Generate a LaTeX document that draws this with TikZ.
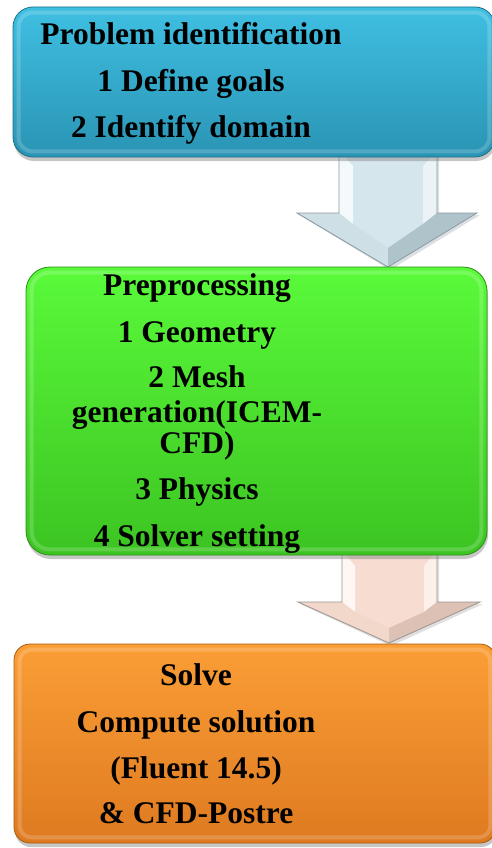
\documentclass[tikz,border=0pt]{standalone}
\usepackage{fontspec}
\newfontfamily\boxfont{Liberation Serif}
\usetikzlibrary{shadows}
\definecolor{bluetop}{HTML}{3FBFE2}
\definecolor{bluebot}{HTML}{2A94B4}
\definecolor{blueedge}{HTML}{1E6F88}
\definecolor{greentop}{HTML}{5AFA3A}
\definecolor{greenbot}{HTML}{3CC422}
\definecolor{greenedge}{HTML}{2C8E18}
\definecolor{orangetop}{HTML}{FB9E36}
\definecolor{orangebot}{HTML}{DE7A20}
\definecolor{orangeedge}{HTML}{A85A12}
\definecolor{arAbase}{HTML}{D6E6ED}
\definecolor{arAlight}{HTML}{F4F9FB}
\definecolor{arAdark}{HTML}{AFC3CB}
\definecolor{arAedge}{HTML}{8A9AA2}
\definecolor{arBbase}{HTML}{F7DDD1}
\definecolor{arBlight}{HTML}{FFF7F3}
\definecolor{arBdark}{HTML}{DDC1B5}
\definecolor{arBedge}{HTML}{9A9490}
\begin{document}
\begin{tikzpicture}[x=1pt,y=-1pt,
  box/.style={draw=#1edge, line width=0.8pt, top color=#1top, bottom color=#1bot,
    drop shadow={opacity=0.45,shadow xshift=1pt,shadow yshift=-4pt}},
  bevel/.style={draw=white, draw opacity=0.18, line width=4pt},
  txt/.style={font=\boxfont\bfseries\fontsize{31.5}{31.5}\selectfont, anchor=base, inner sep=0pt, text=black},
  facet/.style={draw=none, fill=#1}]
\useasboundingbox (0,0) rectangle (492,848);

% arrow 1
\fill[arAedge!60, opacity=0.5] (341,152) -- (439,152) -- (439,215) -- (480,215) -- (390,270) -- (299,215) -- (341,215) -- cycle;
\path[facet=arAbase] (339,150) -- (437,150) -- (437,213) -- (477,213) -- (388,267) -- (297,213) -- (339,213) -- cycle;
\path[facet=arAlight] (339,150) -- (353,166) -- (353,224) -- (339,213) -- cycle;
\path[facet=arAlight!70!arAbase] (437,150) -- (423,166) -- (423,224) -- (437,213) -- cycle;
\path[facet=arAbase!80!arAdark] (297,213) -- (339,213) -- (353,224) -- (388,248) -- (388,267) -- cycle;
\path[facet=arAdark] (477,213) -- (437,213) -- (423,224) -- (388,248) -- (388,267) -- cycle;
\draw[arAedge, line width=0.8pt, line join=miter] (339,150) -- (339,213) -- (297,213) -- (388,267) -- (477,213) -- (437,213) -- (437,150);

% arrow 2
\fill[arBedge!60, opacity=0.5] (344,552) -- (439,552) -- (439,604) -- (483,604) -- (391,646) -- (300,604) -- (344,604) -- cycle;
\path[facet=arBbase] (342,550) -- (437,550) -- (437,602) -- (480,602) -- (389,643) -- (298,602) -- (342,602) -- cycle;
\path[facet=arBlight] (342,550) -- (355,566) -- (355,612) -- (342,602) -- cycle;
\path[facet=arBlight!70!arBbase] (437,550) -- (424,566) -- (424,612) -- (437,602) -- cycle;
\path[facet=arBbase!80!arBdark] (298,602) -- (342,602) -- (355,612) -- (389,628) -- (389,643) -- cycle;
\path[facet=arBdark] (480,602) -- (437,602) -- (424,612) -- (389,628) -- (389,643) -- cycle;
\draw[arBedge, line width=0.8pt, line join=miter] (342,550) -- (342,602) -- (298,602) -- (389,643) -- (480,602) -- (437,602) -- (437,550);

% boxes
\node[box=blue, rounded corners=20pt, minimum width=482pt, minimum height=150pt, inner sep=0pt] (b1) at (254,82) {};
\draw[bevel, rounded corners=14pt] ([xshift=6pt,yshift=-6pt]b1.north west) rectangle ([xshift=-6pt,yshift=6pt]b1.south east);
\node[box=green, rounded corners=24pt, minimum width=461pt, minimum height=288pt, inner sep=0pt] (b2) at (256.5,411) {};
\draw[bevel, rounded corners=18pt] ([xshift=6pt,yshift=-6pt]b2.north west) rectangle ([xshift=-6pt,yshift=6pt]b2.south east);
\node[box=orange, rounded corners=16pt, minimum width=482pt, minimum height=199pt, inner sep=0pt] (b3) at (255,743.5) {};
\draw[bevel, rounded corners=12pt] ([xshift=6pt,yshift=-6pt]b3.north west) rectangle ([xshift=-6pt,yshift=6pt]b3.south east);

% texts box 1
\node[txt] (t11) at (191,45) {Problem identification};
\node[txt] (t12) at (191,92) {1 Define goals};
\node[txt] (t13) at (191,138) {2 Identify domain};
% texts box 2
\node[txt] (t21) at (197,295) {Preprocessing};
\node[txt] (t22) at (197,342) {1 Geometry};
\node[txt] (t23) at (197,387) {2 Mesh};
\node[txt] (t24) at (197,422) {generation(ICEM-};
\node[txt] (t25) at (197,453) {CFD)};
\node[txt] (t26) at (197,499) {3 Physics};
\node[txt] (t27) at (197,546) {4 Solver setting};
% texts box 3
\node[txt] (t31) at (196,685) {Solve};
\node[txt] (t32) at (196,732) {Compute solution};
\node[txt] (t33) at (196,778) {(Fluent 14.5)};
\node[txt] (t34) at (196,823) {\& CFD-Postre};
\end{tikzpicture}
\end{document}
